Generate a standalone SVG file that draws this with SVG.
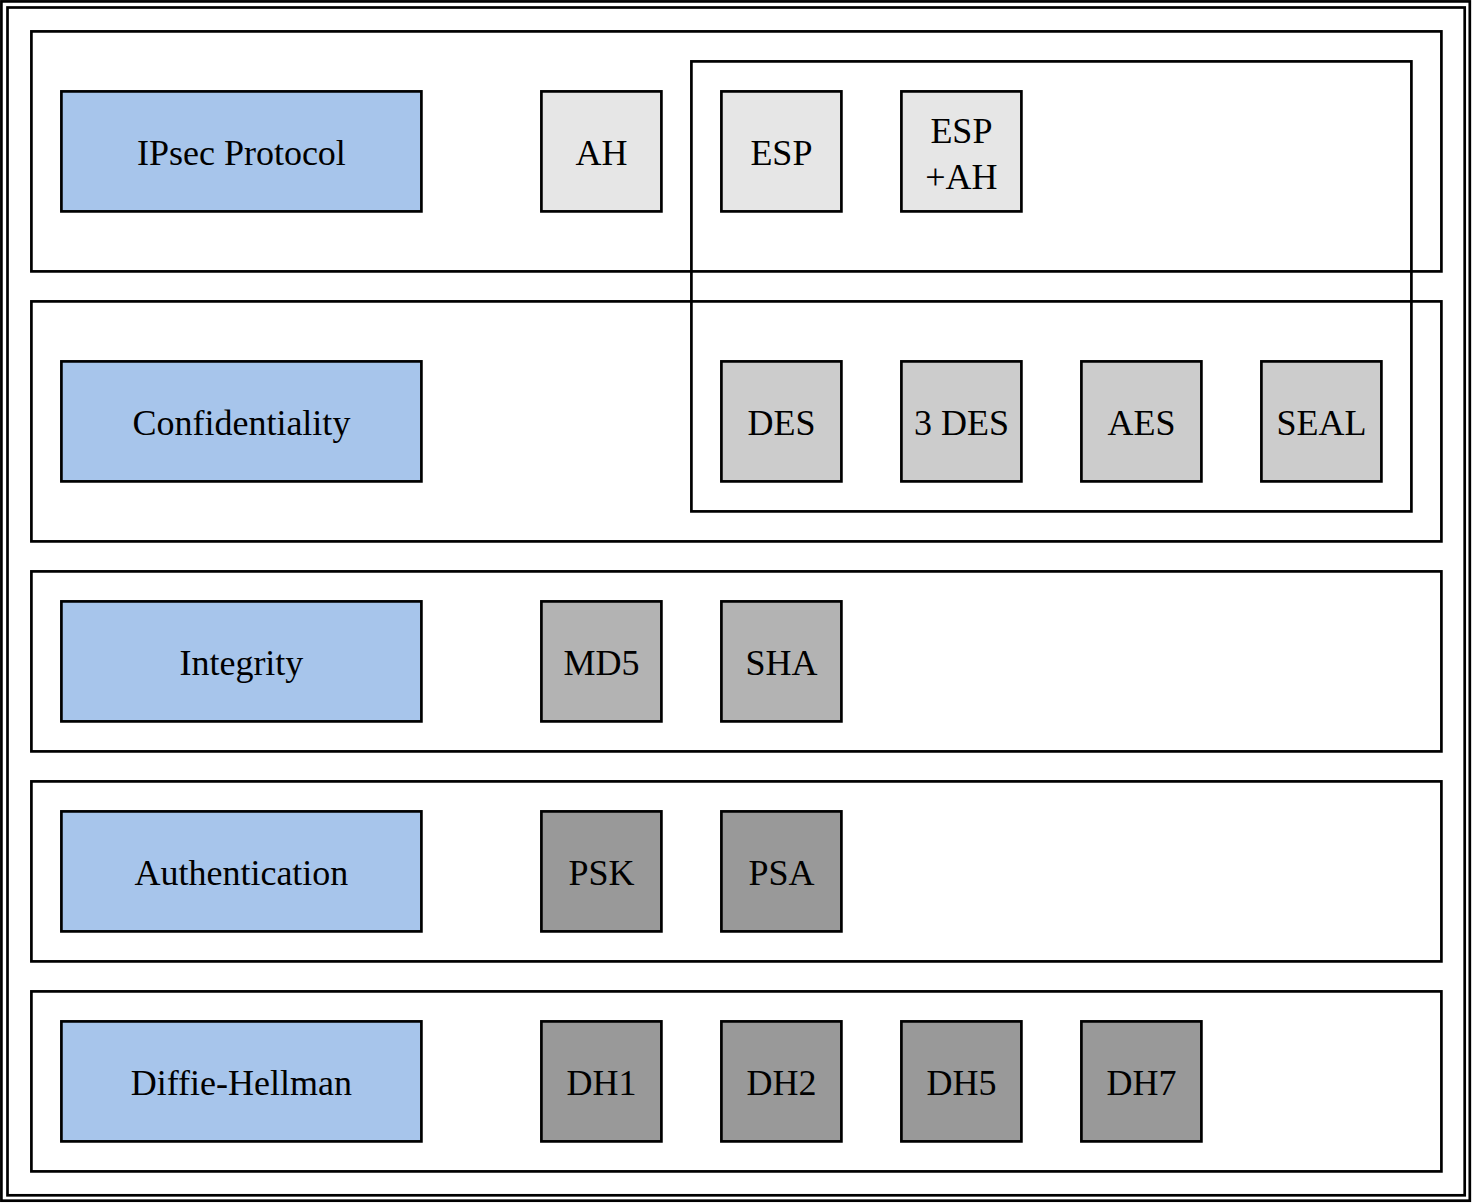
<svg xmlns="http://www.w3.org/2000/svg" width="1473" height="1203" viewBox="0 0 1473 1203">
<style>
.frame{fill:none;stroke:#000;stroke-width:2.7}
.row{fill:none;stroke:#000;stroke-width:2.7}
.box{stroke:#000;stroke-width:2.7}
.blue{fill:#a7c5eb}
.g1{fill:#e6e6e6}
.g2{fill:#cccccc}
.g3{fill:#b3b3b3}
.g4{fill:#999999}
text{font-family:"Liberation Serif","DejaVu Serif",serif;font-size:36px;fill:#000;text-anchor:middle}
</style>
<rect width="1473" height="1203" fill="#fff"/>
<rect class="frame" x="1.4" y="1.4" width="1468.4" height="1199.3"/>
<rect class="frame" x="7.5" y="7.5" width="1457.2" height="1187.8"/>
<g id="rows">
<rect class="row" x="31.4" y="31.4" width="1410" height="240"/>
<rect class="row" x="31.4" y="301.4" width="1410" height="240"/>
<rect class="row" x="31.4" y="571.4" width="1410" height="180"/>
<rect class="row" x="31.4" y="781.4" width="1410" height="180"/>
<rect class="row" x="31.4" y="991.4" width="1410" height="180"/>
</g>
<g id="esp-group"><rect class="row" x="691.4" y="61.4" width="720" height="450"/></g>
<g id="ipsec"><rect class="box blue" x="61.4" y="91.4" width="360" height="120"/><text x="241.4" y="165">IPsec Protocol</text></g>
<g id="ah"><rect class="box g1" x="541.4" y="91.4" width="120" height="120"/><text x="601.4" y="165">AH</text></g>
<g id="esp"><rect class="box g1" x="721.4" y="91.4" width="120" height="120"/><text x="781.4" y="165">ESP</text></g>
<g id="espah"><rect class="box g1" x="901.4" y="91.4" width="120" height="120"/><text x="961.4" y="143">ESP</text><text x="961.4" y="189">+AH</text></g>
<g id="conf"><rect class="box blue" x="61.4" y="361.4" width="360" height="120"/><text x="241.4" y="435">Confidentiality</text></g>
<g id="des"><rect class="box g2" x="721.4" y="361.4" width="120" height="120"/><text x="781.4" y="435">DES</text></g>
<g id="3des"><rect class="box g2" x="901.4" y="361.4" width="120" height="120"/><text x="961.4" y="435">3 DES</text></g>
<g id="aes"><rect class="box g2" x="1081.4" y="361.4" width="120" height="120"/><text x="1141.4" y="435">AES</text></g>
<g id="seal"><rect class="box g2" x="1261.4" y="361.4" width="120" height="120"/><text x="1321.4" y="435">SEAL</text></g>
<g id="integ"><rect class="box blue" x="61.4" y="601.4" width="360" height="120"/><text x="241.4" y="675">Integrity</text></g>
<g id="md5"><rect class="box g3" x="541.4" y="601.4" width="120" height="120"/><text x="601.4" y="675">MD5</text></g>
<g id="sha"><rect class="box g3" x="721.4" y="601.4" width="120" height="120"/><text x="781.4" y="675">SHA</text></g>
<g id="auth"><rect class="box blue" x="61.4" y="811.4" width="360" height="120"/><text x="241.4" y="885">Authentication</text></g>
<g id="psk"><rect class="box g4" x="541.4" y="811.4" width="120" height="120"/><text x="601.4" y="885">PSK</text></g>
<g id="psa"><rect class="box g4" x="721.4" y="811.4" width="120" height="120"/><text x="781.4" y="885">PSA</text></g>
<g id="dh"><rect class="box blue" x="61.4" y="1021.4" width="360" height="120"/><text x="241.4" y="1095">Diffie-Hellman</text></g>
<g id="dh1"><rect class="box g4" x="541.4" y="1021.4" width="120" height="120"/><text x="601.4" y="1095">DH1</text></g>
<g id="dh2"><rect class="box g4" x="721.4" y="1021.4" width="120" height="120"/><text x="781.4" y="1095">DH2</text></g>
<g id="dh5"><rect class="box g4" x="901.4" y="1021.4" width="120" height="120"/><text x="961.4" y="1095">DH5</text></g>
<g id="dh7"><rect class="box g4" x="1081.4" y="1021.4" width="120" height="120"/><text x="1141.4" y="1095">DH7</text></g>
<g id="connectors"></g>
</svg>
